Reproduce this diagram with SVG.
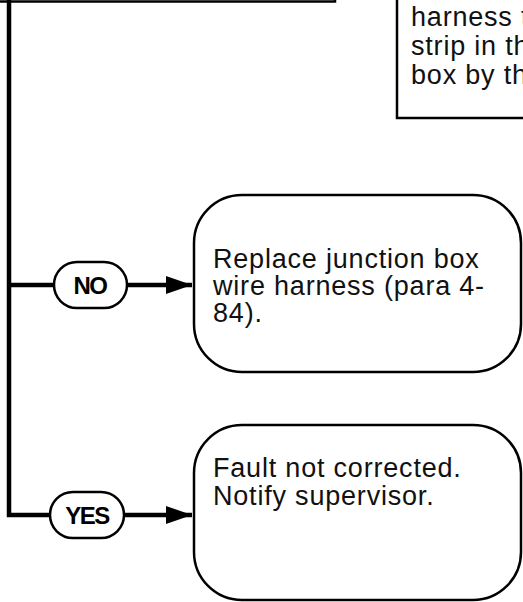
<svg xmlns="http://www.w3.org/2000/svg" width="523" height="602" viewBox="0 0 523 602">
<defs>
<style>
.box{fill:#fff;stroke:#000;stroke-width:2.5}
.pill{fill:#fff;stroke:#000;stroke-width:2.5}
.con{fill:none;stroke:#000;stroke-width:4.5}
.t{font-family:"Liberation Sans",Arial,sans-serif;font-size:27px;letter-spacing:0.8px;fill:#111}
.lab{font-family:"Liberation Sans",Arial,sans-serif;font-size:24px;font-weight:bold;letter-spacing:-1.5px;fill:#000;text-anchor:middle}
</style>
<marker id="ah" markerWidth="26" markerHeight="20" refX="26" refY="10" orient="auto" markerUnits="userSpaceOnUse">
<path d="M0,1 L26,10 L0,19 Z" fill="#000"/>
</marker>
</defs>
<rect width="523" height="602" fill="#fff"/>
<g id="prev-step">
<rect class="box" x="-10" y="-100" width="345" height="101.5"/>
</g>
<g id="top-right-step">
<rect class="box" x="397" y="-100" width="200" height="218"/>
<text class="t" x="411" y="26">harness t</text>
<text class="t" x="411" y="55">strip in th</text>
<text class="t" x="411" y="84">box by th</text>
</g>
<g id="connectors">
<path class="con" d="M9,0 V515 H50"/>
<path class="con" d="M9,285 H54"/>
<path class="con" d="M127,285 H192" marker-end="url(#ah)"/>
<path class="con" d="M124,515 H192" marker-end="url(#ah)"/>
</g>
<g id="no-label">
<rect class="pill" x="54" y="262" width="73" height="46" rx="23"/>
<text class="lab" x="90" y="294">NO</text>
</g>
<g id="yes-label">
<rect class="pill" x="50" y="492" width="74" height="46" rx="23"/>
<text class="lab" x="87" y="524">YES</text>
</g>
<g id="replace-harness">
<rect class="box" x="194" y="195" width="327" height="177" rx="48"/>
<text class="t" x="213" y="268">Replace junction box</text>
<text class="t" x="213" y="295">wire harness (para 4-</text>
<text class="t" x="213" y="322">84).</text>
</g>
<g id="fault-not-corrected">
<rect class="box" x="194" y="425" width="327" height="175" rx="48"/>
<text class="t" x="213" y="477">Fault not corrected.</text>
<text class="t" x="213" y="505">Notify supervisor.</text>
</g>
</svg>
